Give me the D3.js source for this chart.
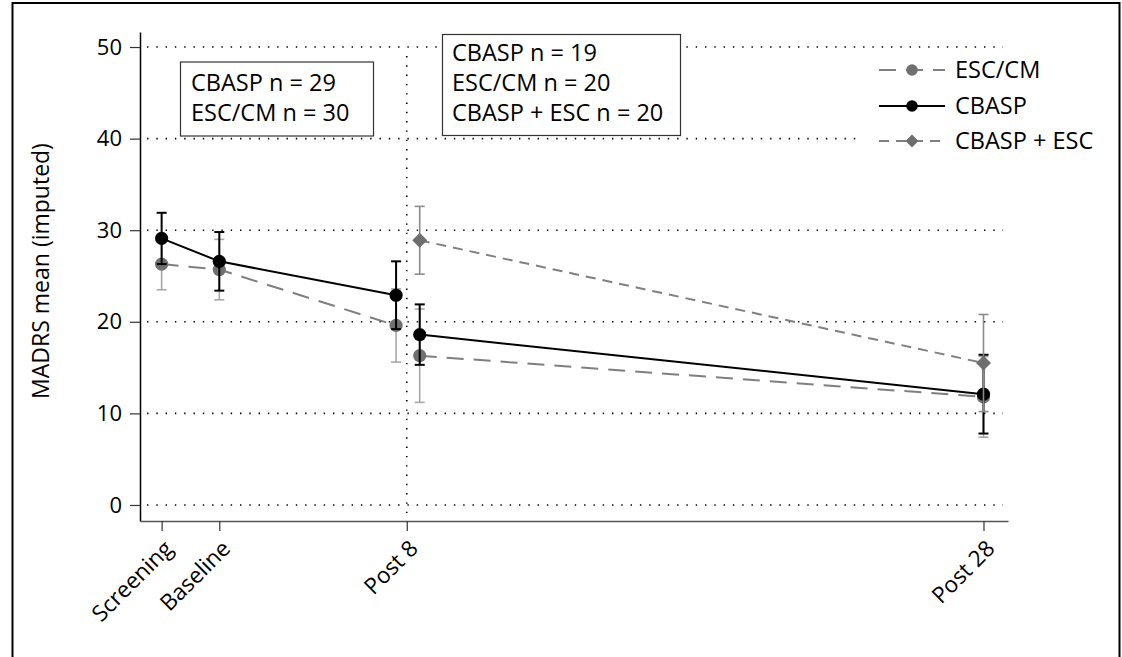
<!DOCTYPE html>
<html><head><meta charset="utf-8">
<script src="https://cdn.jsdelivr.net/npm/d3@7"></script>
<style>
body{margin:0;background:#fff}
svg{display:block}
text{font-family:"Open Sans",sans-serif;fill:#000}
</style>
</head><body>
<svg id="chart" width="1122" height="657"></svg>
<script>
// ---------- data ----------
const timepoints = ["Screening", "Baseline", "Post 8", "Post 28"];
const timeValues = [-2, 0, 6.5, 26.5];
const yTicks = [0, 10, 20, 30, 40, 50];

// phase 1 (until post 8)
const phase1Times = [-2, 0, 6.13];
const escPhase1 = [26.3, 25.7, 19.6];
const escPhase1Err = [2.8, 3.3, 4.0];
const cbaspPhase1 = [29.1, 26.6, 22.9];
const cbaspPhase1Err = [2.8, 3.2, 3.7];

// phase 2 (post 8 to post 28)
const phase2Times = [6.95, 26.5];
const escPhase2 = [16.3, 11.8];
const escPhase2Err = [5.1, 4.4];
const cbaspPhase2 = [18.6, 12.1];
const cbaspPhase2Err = [3.3, 4.3];
const comboPhase2 = [28.9, 15.5];
const comboPhase2Err = [3.7, 5.3];

const seriesNames = ["ESC/CM", "CBASP", "CBASP + ESC"];
const box1Lines = ["CBASP n = 29", "ESC/CM n = 30"];
const box2Lines = ["CBASP n = 19", "ESC/CM n = 20", "CBASP + ESC n = 20"];
const yLabel = "MADRS mean (imputed)";

// ---------- styles ----------
const styles = {
  "ESC/CM":      {line: "#7f7f7f", dash: "17,10", marker: "#707070", err: "#a8a8a8", errW: 1.6, shape: "circle"},
  "CBASP":       {line: "#000000", dash: null,    marker: "#000000", err: "#000000", errW: 2,   shape: "circle"},
  "CBASP + ESC": {line: "#808080", dash: "10,7",  marker: "#6e6e6e", err: "#8c8c8c", errW: 1.6, shape: "diamond"}
};

const svg = d3.select("#chart");
const plotL = 140, plotR = 1008, plotT = 32, plotB = 521;

const x = d3.scaleLinear().domain([-2.75, 27.35]).range([plotL, plotR]);
const y = d3.scaleLinear().domain([-1.75, 51.64]).range([plotB, plotT]);

// outer frame
svg.append("rect").attr("x", 12.5).attr("y", 3).attr("width", 1107).attr("height", 700)
  .attr("fill", "none").attr("stroke", "#000").attr("stroke-width", 2);

// gridlines
const grid = svg.append("g");
grid.selectAll("line.h").data(yTicks).join("line")
  .attr("x1", plotL + 7).attr("x2", plotR - 5)
  .attr("y1", d => y(d)).attr("y2", d => y(d))
  .attr("stroke", "#000").attr("stroke-width", 1.6).attr("stroke-dasharray", "1.4,7.9");
// vertical reference at Post 8
grid.append("line")
  .attr("x1", x(timeValues[2])).attr("x2", x(timeValues[2]))
  .attr("y1", y(50) + 9).attr("y2", y(-1))
  .attr("stroke", "#000").attr("stroke-width", 1.6).attr("stroke-dasharray", "1.4,7.9");

// axes
const yAxis = svg.append("g").attr("transform", `translate(${plotL},0)`)
  .call(d3.axisLeft(y).tickValues(yTicks).tickSize(10).tickSizeOuter(0).tickPadding(8));
yAxis.select(".domain").attr("stroke", "#000").attr("stroke-width", 1.5);
yAxis.selectAll(".tick line").attr("stroke", "#333").attr("stroke-width", 1.2);
yAxis.selectAll(".tick text").attr("font-size", 22).attr("font-family", "Open Sans").attr("fill", "#000");

const xAxis = svg.append("g").attr("transform", `translate(0,${plotB})`)
  .call(d3.axisBottom(x).tickValues(timeValues).tickFormat((d, i) => timepoints[i])
    .tickSize(10).tickSizeOuter(0));
xAxis.select(".domain").attr("stroke", "#555").attr("stroke-width", 1.5);
xAxis.selectAll(".tick line").attr("stroke", "#333").attr("stroke-width", 1.2);
xAxis.selectAll(".tick text")
  .attr("font-size", 22.5).attr("font-family", "Open Sans").attr("fill", "#000")
  .attr("x", 0).attr("y", 0).attr("dy", 0)
  .attr("text-anchor", "end")
  .attr("transform", "translate(12,29) rotate(-45)");

// y label
svg.append("text")
  .attr("transform", `translate(49,271) rotate(-90)`)
  .attr("text-anchor", "middle").attr("font-size", 23)
  .text(yLabel);

// ---------- series ----------
function series(name, times, means, errs) {
  return times.map((t, i) => ({name, t, m: means[i], e: errs[i]}));
}
const groups = [
  series("ESC/CM", phase1Times, escPhase1, escPhase1Err),
  series("ESC/CM", phase2Times, escPhase2, escPhase2Err),
  series("CBASP", phase1Times, cbaspPhase1, cbaspPhase1Err),
  series("CBASP", phase2Times, cbaspPhase2, cbaspPhase2Err),
  series("CBASP + ESC", phase2Times, comboPhase2, comboPhase2Err)
];

const lineGen = d3.line().x(d => x(d.t)).y(d => y(d.m));
const capHalf = 5;
const plot = svg.append("g");

function drawMarker(g, shape, color, cx, cy, r) {
  if (shape === "circle") {
    g.append("circle").attr("cx", cx).attr("cy", cy).attr("r", r).attr("fill", color);
  } else {
    g.append("path")
      .attr("d", d3.symbol(d3.symbolSquare, (r * Math.SQRT2) ** 2)())
      .attr("transform", `translate(${cx},${cy}) rotate(45)`)
      .attr("fill", color);
  }
}

groups.forEach(data => {
  const st = styles[data[0].name];
  const g = plot.append("g");
  data.forEach(d => {
    const xx = x(d.t), y0 = y(d.m - d.e), y1 = y(d.m + d.e);
    g.append("line").attr("x1", xx).attr("x2", xx).attr("y1", y0).attr("y2", y1)
      .attr("stroke", st.err).attr("stroke-width", st.errW);
    [y0, y1].forEach(yy => g.append("line")
      .attr("x1", xx - capHalf).attr("x2", xx + capHalf).attr("y1", yy).attr("y2", yy)
      .attr("stroke", st.err).attr("stroke-width", st.errW));
  });
  g.append("path").datum(data).attr("d", lineGen)
    .attr("fill", "none").attr("stroke", st.line).attr("stroke-width", 2)
    .attr("stroke-dasharray", st.dash);
  data.forEach(d => drawMarker(g, st.shape, st.marker, x(d.t), y(d.m), st.shape === "circle" ? 6.6 : 7.5));
});

// ---------- annotation boxes ----------
function textBox(bx, by, bw, bh, lines, tx, firstBase, step) {
  const g = svg.append("g");
  g.append("rect").attr("x", bx).attr("y", by).attr("width", bw).attr("height", bh)
    .attr("fill", "#fff").attr("stroke", "#333").attr("stroke-width", 1.2);
  lines.forEach((t, i) => g.append("text").attr("x", tx).attr("y", firstBase + i * step)
    .attr("font-size", 23.5).text(t));
}
textBox(180.5, 62, 193, 74, box1Lines, 191, 91, 30);
textBox(442.5, 34.5, 238, 101, box2Lines, 452, 61, 30);

// ---------- legend ----------
const lg = svg.append("g");
lg.append("rect").attr("x", 857).attr("y", 52).attr("width", 255).attr("height", 108).attr("fill", "#fff");
const rowY = [70, 106, 141];
seriesNames.forEach((name, i) => {
  const st = styles[name];
  const yy = rowY[i];
  lg.append("line").attr("x1", 879).attr("x2", 945).attr("y1", yy).attr("y2", yy)
    .attr("stroke", st.line).attr("stroke-width", 2).attr("stroke-dasharray", st.dash);
  drawMarker(lg, st.shape, st.marker, 912, yy, st.shape === "circle" ? 5.8 : 6.5);
  lg.append("text").attr("x", 955).attr("y", yy).attr("dy", "0.35em")
    .attr("font-size", 23.5).text(name);
});
</script>
</body></html>
